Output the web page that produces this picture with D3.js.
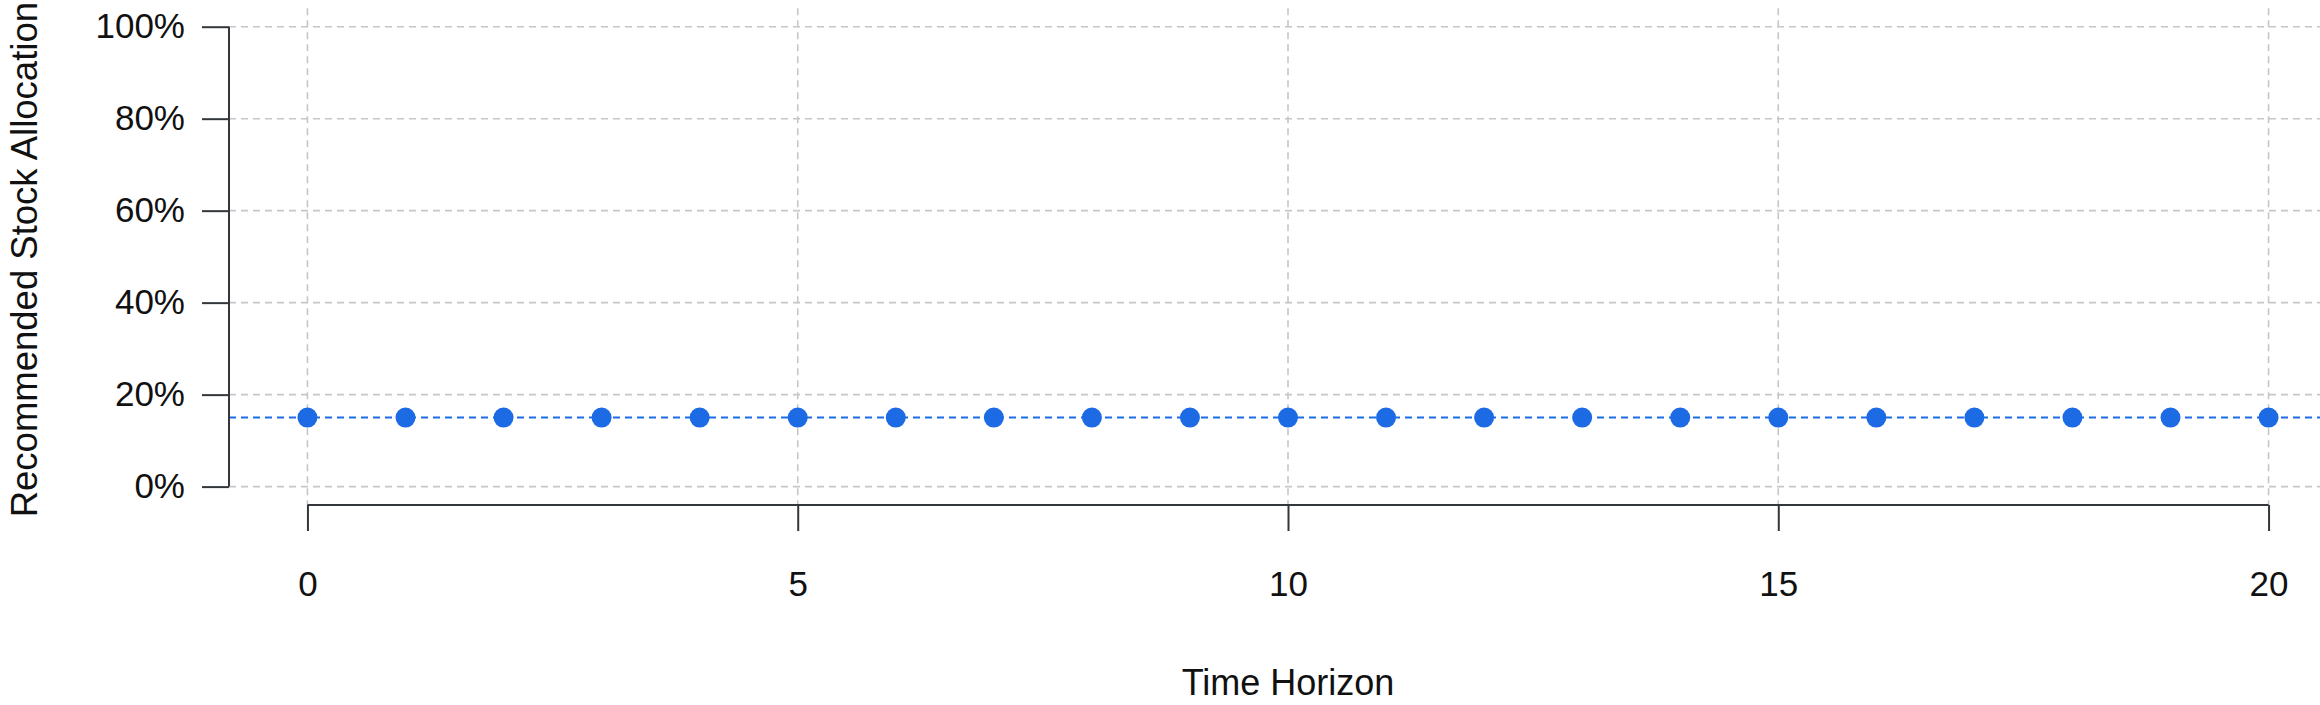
<!DOCTYPE html>
<html>
<head>
<meta charset="utf-8">
<script src="https://cdn.jsdelivr.net/npm/d3@7"></script>
<style>
  html, body { margin: 0; padding: 0; background: #fff; }
  svg { display: block; }
  text { font-family: "Liberation Sans", Arial, Helvetica, sans-serif; fill: #111; }
</style>
</head>
<body>
<svg id="chart"></svg>
<script>
// horizon (years) and recommended stock share
const horizons = d3.range(0, 21);
const allocation = [0.15, 0.15, 0.15, 0.15, 0.15, 0.15, 0.15, 0.15, 0.15, 0.15, 0.15,
                    0.15, 0.15, 0.15, 0.15, 0.15, 0.15, 0.15, 0.15, 0.15, 0.15];
const recommendedLevel = 0.15;
const xTicks = [0, 5, 10, 15, 20];
const yTicks = [0, 0.2, 0.4, 0.6, 0.8, 1.0];
const xLabel = 'Time Horizon';
const yLabel = 'Recommended Stock Allocation';

const width = 2320, height = 705;
const plot = { left: 229, right: 2347, top: 8.3, bottom: 505 };

const svg = d3.select('#chart')
  .attr('width', width)
  .attr('height', height);

// R style: 4% padding on each side of the data range
const x = d3.scaleLinear()
  .domain([-0.8, 20.8])
  .range([plot.left, plot.right]);

const y = d3.scaleLinear()
  .domain([-0.04, 1.04])
  .range([plot.bottom, plot.top]);

const grid = svg.append('g')
  .attr('stroke', '#c6c6cb')
  .attr('stroke-width', 1.6)
  .attr('stroke-dasharray', '7,5');

grid.selectAll('line.h')
  .data(yTicks)
  .enter()
  .append('line')
  .attr('class', 'h')
  .attr('x1', plot.left)
  .attr('x2', width)
  .attr('y1', d => y(d))
  .attr('y2', d => y(d));

grid.selectAll('line.v')
  .data(xTicks)
  .enter()
  .append('line')
  .attr('class', 'v')
  .attr('x1', d => x(d))
  .attr('x2', d => x(d))
  .attr('y1', plot.top)
  .attr('y2', plot.bottom);

// reference level
svg.append('line')
  .attr('x1', plot.left)
  .attr('x2', width)
  .attr('y1', y(recommendedLevel))
  .attr('y2', y(recommendedLevel))
  .attr('stroke', '#1d6ae5')
  .attr('stroke-width', 2)
  .attr('stroke-dasharray', '7,5');

svg.selectAll('circle')
  .data(horizons)
  .enter()
  .append('circle')
  .attr('cx', d => x(d))
  .attr('cy', (d, i) => y(allocation[i]))
  .attr('r', 10)
  .attr('fill', '#1d6ae5');

// y axis
const yAxis = svg.append('g')
  .attr('transform', `translate(${plot.left},0)`)
  .call(d3.axisLeft(y)
    .tickValues(yTicks)
    .tickFormat(d3.format('.0%'))
    .tickSize(27)
    .tickSizeOuter(0)
    .tickPadding(17));
yAxis.select('.domain').remove();
yAxis.append('line')
  .attr('y1', y(0))
  .attr('y2', y(1))
  .attr('stroke', '#33363b')
  .attr('stroke-width', 2);
yAxis.selectAll('.tick line').attr('stroke', '#33363b').attr('stroke-width', 2);
yAxis.selectAll('.tick text')
  .style('font-size', '35px')
  .attr('fill', '#111');

// x axis
const xAxis = svg.append('g')
  .attr('transform', `translate(0,${plot.bottom})`)
  .call(d3.axisBottom(x)
    .tickValues(xTicks)
    .tickSize(26)
    .tickSizeOuter(0)
    .tickPadding(40));
xAxis.select('.domain').remove();
xAxis.append('line')
  .attr('x1', x(0))
  .attr('x2', x(20))
  .attr('stroke', '#33363b')
  .attr('stroke-width', 2);
xAxis.selectAll('.tick line').attr('stroke', '#33363b').attr('stroke-width', 2);
xAxis.selectAll('.tick text')
  .style('font-size', '35px')
  .attr('fill', '#111');

svg.append('text')
  .attr('x', (plot.left + plot.right) / 2)
  .attr('y', 695)
  .attr('text-anchor', 'middle')
  .style('font-size', '36px')
  .text(xLabel);

svg.append('text')
  .attr('transform', `translate(37,${(plot.top + plot.bottom) / 2 + 3}) rotate(-90)`)
  .attr('text-anchor', 'middle')
  .style('font-size', '36.5px')
  .text(yLabel);
</script>
</body>
</html>
